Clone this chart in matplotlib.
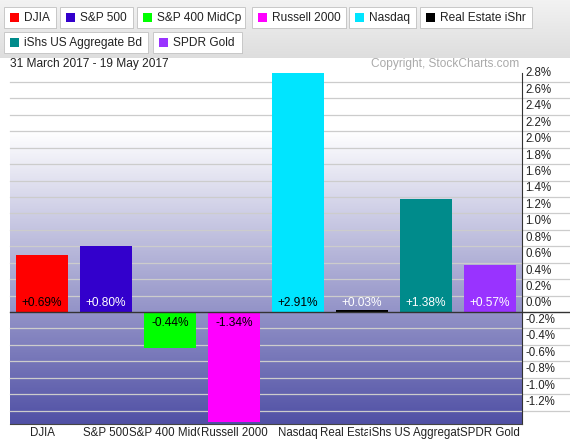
import numpy as np
import matplotlib
matplotlib.use('Agg')
import matplotlib.pyplot as plt
from matplotlib.patches import Rectangle

plt.rcParams['font.family'] = ['Liberation Sans', 'DejaVu Sans']

# Data: performance 31 March 2017 - 19 May 2017
names = ['DJIA', 'S&P 500', 'S&P 400 MidCp', 'Russell 2000', 'Nasdaq',
         'Real Estate iShr', 'iShs US Aggregate Bd', 'SPDR Gold']
changes = [0.69, 0.80, -0.44, -1.34, 2.91, 0.03, 1.38, 0.57]
colors = ['#FF0000', '#3300CC', '#00FF00', '#FF00FF', '#00E5FF',
          '#000000', '#008B8B', '#9933FF']
label_colors = ['black', 'white', 'black', 'black', 'black',
                'white', 'white', 'white']
yticks = [-1.2, -1.0, -0.8, -0.6, -0.4, -0.2, 0.0, 0.2, 0.4, 0.6, 0.8, 1.0,
          1.2, 1.4, 1.6, 1.8, 2.0, 2.2, 2.4, 2.6, 2.8]
ymin, ymax = -1.3635, 2.9097

W, H = 570, 444
fig = plt.figure(figsize=(W / 100, H / 100), dpi=100)

# header overlay in pixel coords
hdr = fig.add_axes([0, 0, 1, 1], zorder=0)
hdr.set_xlim(0, W)
hdr.set_ylim(H, 0)
hdr.axis('off')
g = np.linspace(0.95, 0.87, 60).reshape(-1, 1)
hdr.imshow(np.dstack([g, g, g]), extent=(0, W, 58, 0), aspect='auto', zorder=0)

buttons = [(4, 7, 52), (60, 7, 73), (137, 7, 108), (252, 7, 94), (349, 7, 67),
           (420, 7, 112), (4, 32, 144), (153, 32, 89)]
for (bx, by, bw), name, c in zip(buttons, names, colors):
    hdr.add_patch(Rectangle((bx + 1, by + 1), bw, 21, facecolor='#9A9A9A',
                            edgecolor='none', zorder=1))
    hdr.add_patch(Rectangle((bx, by), bw, 21, facecolor='white',
                            edgecolor='#C8C8C8', lw=0.7, zorder=2))
    hdr.add_patch(Rectangle((bx + 6, by + 6.5), 9, 9, facecolor=c,
                            edgecolor='none', zorder=3))
    hdr.text(bx + 20, by + 11, name, fontsize=8.6, color='#222222',
             va='center', ha='left', zorder=4)

hdr.text(10, 64, '31 March 2017 - 19 May 2017', fontsize=8.6, color='#222222',
         va='center', ha='left')
hdr.text(519, 64, 'Copyright, StockCharts.com', fontsize=8.6, color='#AAAAAA',
         va='center', ha='right')

# main chart
ax = fig.add_axes([10 / W, 20 / H, 512 / W, 351 / H], zorder=1)
ax.patch.set_alpha(0)
ax.set_xlim(-0.5, len(names) - 0.5)
ax.set_ylim(ymin, ymax)

# background gradient
v = np.linspace(ymax, ymin, 400)
t = np.clip((2.2 - v) / (2.2 - ymin), 0, 1).reshape(-1, 1)
low = np.array([80, 80, 165]) / 255.0
bg = (1 - t)[..., None] * np.ones(3) + t[..., None] * low
ax.imshow(bg, extent=(-0.5, len(names) - 0.5, ymin, ymax), aspect='auto',
          zorder=0)

for yv in yticks:
    if yv != 0:
        ax.axhline(yv, xmin=0, xmax=1.094, color='#CCCCCC', lw=0.9,
                   clip_on=False, zorder=1)
    ax.annotate(f'{yv:.1f}%', xy=(1, yv), xycoords=('axes fraction', 'data'),
                xytext=(2.5, 6.2), textcoords='offset points', fontsize=8.3,
                color='#222222', ha='left', va='center', annotation_clip=False)

x = np.arange(len(names))
ax.bar(x, changes, width=0.81, color=colors, edgecolor='none', zorder=2)
ax.axhline(0, xmin=0, xmax=1.094, color='#333333', lw=1.0, clip_on=False,
           zorder=3)

for i, (val, lc) in enumerate(zip(changes, label_colors)):
    off = 6.5 if val >= 0 else -8
    ax.annotate(f'{val:+.2f}%', xy=(i, 0), xytext=(0, off),
                textcoords='offset points', ha='center', va='center',
                fontsize=8.6, color=lc, zorder=4)

# category labels, each drawn over the previous one
for i, name in enumerate(names):
    ax.annotate(name, xy=(i, 0), xycoords=('data', 'axes fraction'),
                xytext=(0, -6.8), textcoords='offset points', ha='center',
                va='center', fontsize=8.3, color='#222222', zorder=5 + i,
                annotation_clip=False,
                bbox=dict(facecolor='white', edgecolor='none', pad=0.3))

for s in ['left', 'top']:
    ax.spines[s].set_visible(False)
ax.spines['right'].set_color('#333333')
ax.spines['bottom'].set_color('#444444')
ax.set_xticks([])
ax.set_yticks([])

fig.savefig('out.png', dpi=100)
